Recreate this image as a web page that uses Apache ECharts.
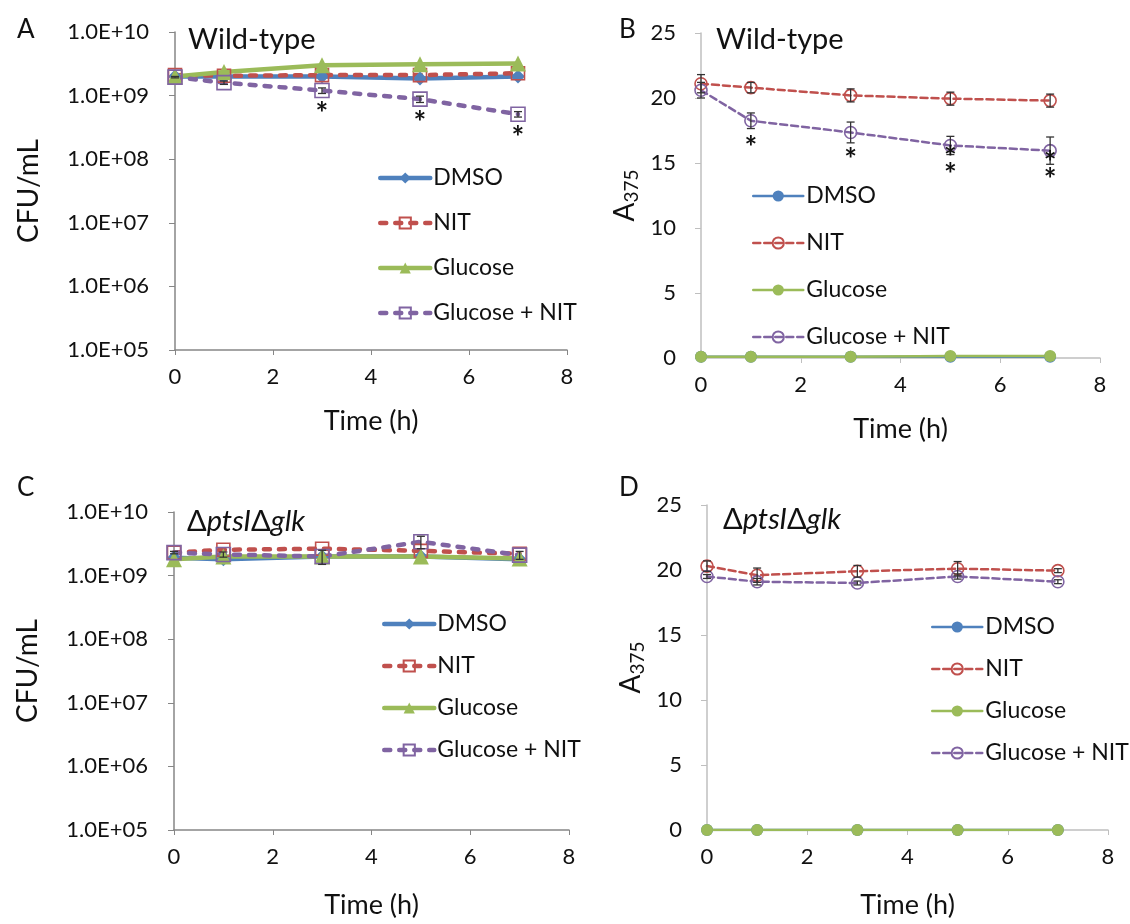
<!DOCTYPE html>
<html>
<head>
<meta charset="utf-8">
<script src="https://cdn.jsdelivr.net/npm/echarts@6/dist/echarts.min.js"></script>
<style>
  html, body { margin: 0; padding: 0; background: #fff; }
  #chart { width: 1130px; height: 924px; }
</style>
</head>
<body>
<div id="chart"></div>
<script>
// sampling times (h)
const hours = [0, 1, 3, 5, 7];
const timeTicks = [0, 2, 4, 6, 8];

// A: wild-type, CFU/mL
const cfuWtDmso = [2.0e9, 2.0e9, 2.0e9, 1.85e9, 2.0e9];
const cfuWtNit = [2.1e9, 2.05e9, 2.1e9, 2.1e9, 2.25e9];
const cfuWtGlc = [2.0e9, 2.35e9, 3.0e9, 3.1e9, 3.2e9];
const cfuWtGlcNit = [1.95e9, 1.6e9, 1.2e9, 0.88e9, 0.51e9];
const cfuWtGlcNitErr = [0.05e9, 0.1e9, 0.12e9, 0.1e9, 0.05e9];
const cfuWtStars = [0, 0, 1, 1, 1];

// B: wild-type, A375
const absWtDmso = [0.1, 0.1, 0.1, 0.1, 0.1];
const absWtNit = [21.1, 20.8, 20.2, 19.95, 19.8];
const absWtNitErr = [0.7, 0.4, 0.5, 0.5, 0.5];
const absWtGlc = [0.1, 0.1, 0.1, 0.15, 0.15];
const absWtGlcNit = [20.6, 18.25, 17.35, 16.35, 15.95];
const absWtGlcNitErr = [0.6, 0.6, 0.8, 0.7, 1.05];
const absWtStars = [0, 1, 1, 2, 2];

// C: ptsI glk mutant, CFU/mL
const cfuMutDmso = [1.9e9, 1.8e9, 2.0e9, 2.0e9, 1.8e9];
const cfuMutNit = [2.3e9, 2.55e9, 2.65e9, 2.45e9, 2.2e9];
const cfuMutGlc = [1.8e9, 2.0e9, 2.0e9, 2.0e9, 1.85e9];
const cfuMutGlcNit = [2.3e9, 2.15e9, 2.0e9, 3.4e9, 2.1e9];
const cfuMutGlcNitErr = [0.1e9, 0.2e9, 0.5e9, 0.75e9, 0.3e9];

// D: ptsI glk mutant, A375
const absMutDmso = [0, 0, 0, 0, 0];
const absMutNit = [20.3, 19.6, 19.9, 20.1, 19.95];
const absMutNitErr = [0.4, 0.55, 0.45, 0.55, 0.15];
const absMutGlc = [0, 0, 0, 0, 0];
const absMutGlcNit = [19.5, 19.1, 19.0, 19.5, 19.1];
const absMutGlcNitErr = [0.15, 0.25, 0.15, 0.2, 0.15];

const groupNames = ['DMSO', 'NIT', 'Glucose', 'Glucose + NIT'];

const FONT = 'Lato';
const BLUE = '#4f81bd', RED = '#c0504d', GREEN = '#9bbb59', PURPLE = '#8064a2';
const CLEAR = 'rgba(255,255,255,0)';

const chart = echarts.init(document.getElementById('chart'));

function pairs(vals) {
  return hours.map((h, i) => [h, vals[i]]);
}

// marker / line looks for the CFU panels and the absorbance panels
const cfuLook = [
  { color: BLUE, symbol: 'diamond', size: 14, fill: BLUE, dash: 'solid', width: 4.5 },
  { color: RED, symbol: 'rect', size: 13, fill: CLEAR, dash: [6, 9], width: 4.5 },
  { color: GREEN, symbol: 'triangle', size: 16, fill: GREEN, dash: 'solid', width: 4.5 },
  { color: PURPLE, symbol: 'rect', size: 14, fill: CLEAR, dash: [6, 9], width: 4.5 }
];
const absLook = [
  { color: BLUE, symbol: 'circle', size: 12, fill: BLUE, dash: 'solid', width: 2.5 },
  { color: RED, symbol: 'circle', size: 12, fill: CLEAR, dash: [7, 4], width: 2.5 },
  { color: GREEN, symbol: 'circle', size: 12, fill: GREEN, dash: 'solid', width: 2.5 },
  { color: PURPLE, symbol: 'circle', size: 12, fill: CLEAR, dash: [7, 4], width: 2.5 }
];

function lineSeries(name, panel, gi, vals, look) {
  return {
    type: 'line',
    name: name + '|' + panel,
    xAxisIndex: gi,
    yAxisIndex: gi,
    data: pairs(vals),
    symbol: look.symbol,
    symbolSize: look.size,
    showAllSymbol: true,
    lineStyle: { color: look.color, width: look.width, type: look.dash, cap: 'round' },
    itemStyle: { color: look.fill, borderColor: look.color, borderWidth: look.fill === CLEAR ? 1.6 : 0 },
    emphasis: { disabled: true },
    animation: false,
    z: 3
  };
}

// error bars plus significance stars, drawn through the axis scales
function errorSeries(gi, vals, errs, stars, starGap) {
  return {
    type: 'custom',
    xAxisIndex: gi,
    yAxisIndex: gi,
    clip: false,
    silent: true,
    animation: false,
    z: 5,
    data: hours.map((h, i) => [h, vals[i], errs[i], stars ? stars[i] : 0]),
    renderItem(params, api) {
      const x = api.value(0), y = api.value(1), e = api.value(2), n = api.value(3);
      const p = api.coord([x, y]);
      const hi = api.coord([x, y + e]);
      const lo = api.coord([x, y - e]);
      const st = { stroke: '#333', lineWidth: 1.3 };
      const kids = [
        { type: 'line', shape: { x1: p[0], y1: hi[1], x2: p[0], y2: lo[1] }, style: st },
        { type: 'line', shape: { x1: p[0] - 4, y1: hi[1], x2: p[0] + 4, y2: hi[1] }, style: st },
        { type: 'line', shape: { x1: p[0] - 4, y1: lo[1], x2: p[0] + 4, y2: lo[1] }, style: st }
      ];
      const offs = n === 1 ? [starGap] : n === 2 ? [5, 22] : [];
      offs.forEach(o => {
        kids.push({
          type: 'text',
          style: {
            text: '*', x: p[0], y: p[1] + o + 8,
            fontFamily: FONT, fontSize: 30, fontWeight: 'bold', fill: '#111',
            align: 'center', verticalAlign: 'middle'
          }
        });
      });
      return { type: 'group', children: kids };
    }
  };
}

const grids = [
  { left: 175, top: 32, width: 392, height: 318 },
  { left: 701, top: 33, width: 399, height: 325 },
  { left: 174, top: 512, width: 395, height: 318 },
  { left: 707, top: 505, width: 401, height: 325 }
];

const axisText = { fontFamily: FONT, fontSize: 22, color: '#111' };

const xAxes = grids.map((g, i) => ({
  type: 'value',
  gridIndex: i,
  min: timeTicks[0],
  max: timeTicks[timeTicks.length - 1],
  interval: 2,
  name: 'Time (h)',
  nameLocation: 'middle',
  nameGap: i < 2 ? 58 : 62,
  nameTextStyle: { fontFamily: FONT, fontSize: 27, color: '#111' },
  axisLine: { lineStyle: { color: i % 2 === 0 ? '#868686' : '#bfbfbf', width: 1.5 } },
  axisTick: { show: true, inside: false, length: 5, lineStyle: { color: i % 2 === 0 ? '#868686' : '#bfbfbf' } },
  axisLabel: Object.assign({ margin: 16 }, axisText),
  splitLine: { show: false }
}));

function cfuAxis(gi) {
  return {
    type: 'log',
    gridIndex: gi,
    logBase: 10,
    min: 1e5,
    max: 1e10,
    name: 'CFU/mL',
    nameLocation: 'middle',
    nameRotate: 90,
    nameGap: 132,
    nameTextStyle: { fontFamily: FONT, fontSize: 28, color: '#111' },
    axisLine: { show: true, lineStyle: { color: '#868686', width: 1.5 } },
    axisTick: { show: true, inside: false, length: 6, lineStyle: { color: '#868686' } },
    axisLabel: Object.assign({
      margin: 26,
      formatter: v => '1.0E+' + String(Math.round(Math.log10(v))).padStart(2, '0')
    }, axisText),
    minorTick: { show: false },
    splitLine: { show: false }
  };
}

function absAxis(gi) {
  return {
    type: 'value',
    gridIndex: gi,
    min: 0,
    max: 25,
    interval: 5,
    name: '{a|A}{s|375}',
    nameLocation: 'middle',
    nameRotate: 90,
    nameGap: 60,
    nameTextStyle: {
      color: '#111',
      rich: {
        a: { fontFamily: FONT, fontSize: 28, color: '#111' },
        s: { fontFamily: FONT, fontSize: 19, color: '#111', padding: [14, 0, 0, 0] }
      }
    },
    axisLine: { show: true, lineStyle: { color: '#bfbfbf', width: 1.5 } },
    axisTick: { show: true, inside: false, length: 6, lineStyle: { color: '#bfbfbf' } },
    axisLabel: Object.assign({ margin: 25 }, axisText),
    splitLine: { show: false }
  };
}

function legendFor(panel, left, top, gap, lineWidth) {
  return {
    orient: 'vertical',
    left: left,
    top: top,
    itemWidth: 50,
    itemHeight: 14,
    itemGap: gap,
    data: groupNames.map(n => n + '|' + panel),
    formatter: name => name.split('|')[0],
    lineStyle: { width: lineWidth },
    textStyle: { fontFamily: FONT, fontSize: 23, color: '#111', lineHeight: 26, padding: [0, 0, 0, -2] },
    selectedMode: false
  };
}

const panelText = { fontFamily: FONT, fontSize: 26, fontWeight: 'normal', color: '#111' };
const strainText = { fontFamily: FONT, fontSize: 29, fontWeight: 'normal', color: '#111' };
const mutantRich = {
  fontFamily: FONT, fontSize: 29, fontWeight: 'normal', color: '#111',
  rich: {
    n: { fontFamily: FONT, fontSize: 29, color: '#111' },
    i: { fontFamily: FONT, fontSize: 29, color: '#111', fontStyle: 'italic' }
  }
};

const series = [];
[
  ['A', 0, [cfuWtDmso, cfuWtNit, cfuWtGlc, cfuWtGlcNit], cfuLook],
  ['B', 1, [absWtDmso, absWtNit, absWtGlc, absWtGlcNit], absLook],
  ['C', 2, [cfuMutDmso, cfuMutNit, cfuMutGlc, cfuMutGlcNit], cfuLook],
  ['D', 3, [absMutDmso, absMutNit, absMutGlc, absMutGlcNit], absLook]
].forEach(([panel, gi, sets, looks]) => {
  sets.forEach((vals, k) => series.push(lineSeries(groupNames[k], panel, gi, vals, looks[k])));
});
series.push(errorSeries(0, cfuWtGlcNit, cfuWtGlcNitErr, cfuWtStars, 16));
series.push(errorSeries(1, absWtNit, absWtNitErr, null, 20));
series.push(errorSeries(1, absWtGlcNit, absWtGlcNitErr, absWtStars, 20));
series.push(errorSeries(2, cfuMutGlcNit, cfuMutGlcNitErr, null, 16));
series.push(errorSeries(3, absMutNit, absMutNitErr, null, 20));
series.push(errorSeries(3, absMutGlcNit, absMutGlcNitErr, null, 20));

chart.setOption({
  backgroundColor: '#fff',
  animation: false,
  title: [
    { text: 'A', left: 12, top: 12, textStyle: panelText },
    { text: 'B', left: 614, top: 12, textStyle: panelText },
    { text: 'C', left: 12, top: 470, textStyle: panelText },
    { text: 'D', left: 614, top: 470, textStyle: panelText },
    { text: 'Wild-type', left: 183, top: 20, textStyle: strainText },
    { text: 'Wild-type', left: 711, top: 20, textStyle: strainText },
    { text: '{n|Δ}{i|ptsI}{n|Δ}{i|glk}', left: 182, top: 502, textStyle: mutantRich },
    { text: '{n|Δ}{i|ptsI}{n|Δ}{i|glk}', left: 718, top: 500, textStyle: mutantRich }
  ],
  legend: [
    legendFor('A', 373, 160, 19, 4.5),
    legendFor('B', 747, 178, 21, 2.5),
    legendFor('C', 377, 606, 16, 4.5),
    legendFor('D', 926, 609, 16, 2.5)
  ],
  grid: grids,
  xAxis: xAxes,
  yAxis: [cfuAxis(0), absAxis(1), cfuAxis(2), absAxis(3)],
  series: series
});
</script>
</body>
</html>
